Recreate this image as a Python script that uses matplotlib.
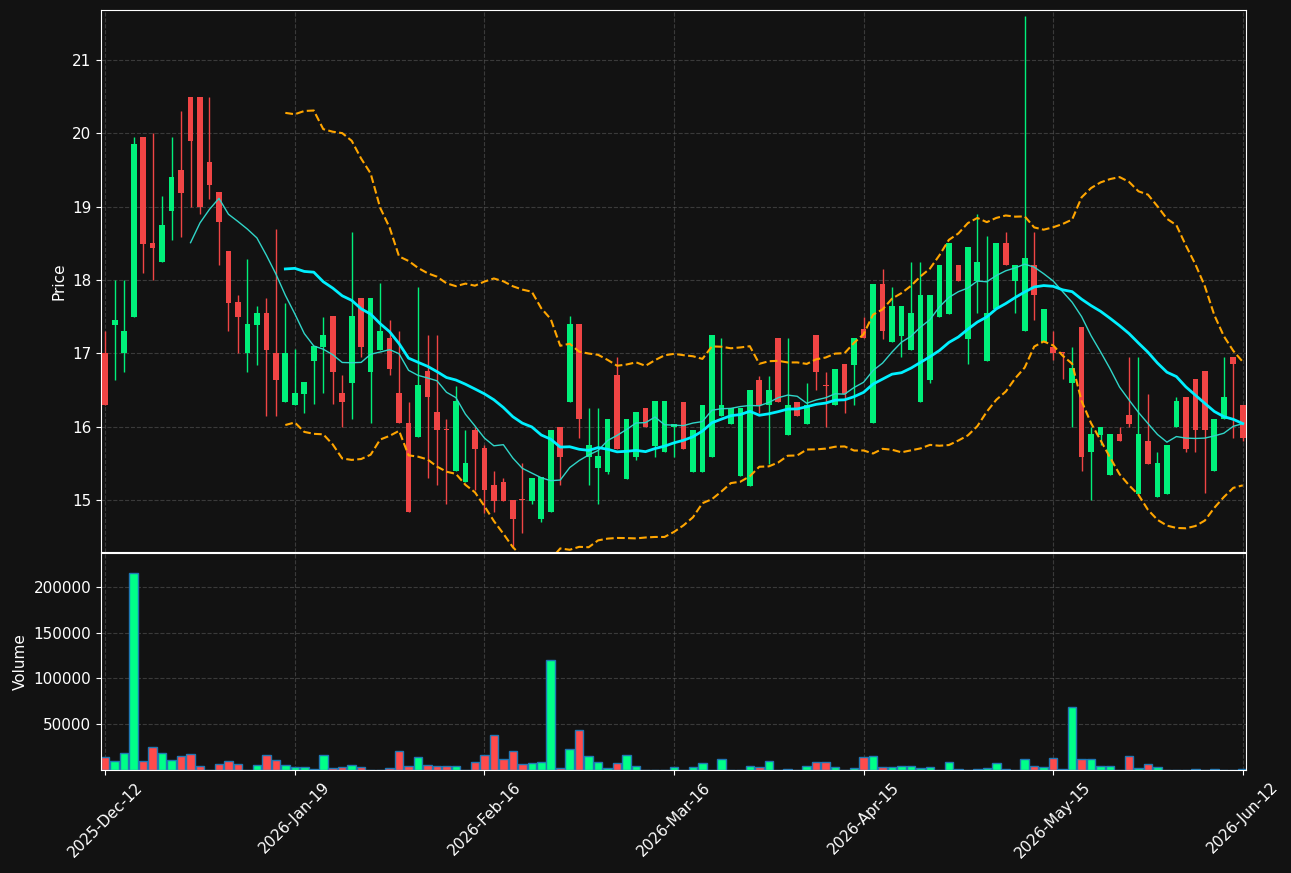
import numpy as np
import pandas as pd
import matplotlib
matplotlib.use("Agg")
import matplotlib.pyplot as plt

# daily OHLC (one row per trading day)
opens = [17.0, 17.39, 17.0, 17.5, 19.95, 18.5, 18.25, 18.94, 19.5, 20.5,
         20.5, 19.61, 19.2, 18.4, 17.7, 17.0, 17.39, 17.55, 17.0, 16.34,
         16.30, 16.45, 16.9, 17.09, 17.51, 16.46, 16.6, 17.75, 16.75, 17.05,
         17.21, 16.46, 16.05, 15.86, 16.76, 16.2, 15.96, 15.39, 15.24, 15.96,
         15.71, 15.2, 15.25, 15.0, 15.01, 14.99, 14.74, 14.84, 16.0, 16.34,
         17.4, 15.59, 15.44, 15.38, 16.7, 15.29, 15.59, 16.25, 15.74, 15.65,
         16.0, 16.34, 15.38, 15.38, 15.58, 16.15, 16.04, 15.33, 15.19, 16.64,
         16.3, 17.21, 15.88, 16.34, 16.04, 17.25, 16.56, 16.29, 16.85, 16.84,
         17.33, 16.05, 17.95, 17.15, 17.24, 17.05, 16.34, 16.64, 17.5, 17.54,
         18.2, 17.2, 17.99, 16.9, 17.6, 18.5, 17.99, 17.3, 18.2, 17.15,
         17.09, 17.01, 16.6, 17.36, 15.65, 15.89, 15.34, 15.9, 16.16, 15.08,
         15.8, 15.04, 15.08, 16.0, 16.4, 16.65, 16.76, 15.39, 16.1, 16.95,
         16.3]
highs = [17.3, 18.0, 18.0, 19.95, 19.95, 20.0, 19.15, 19.95, 20.3, 20.5,
         20.5, 20.5, 19.2, 18.4, 17.8, 18.29, 17.65, 17.75, 18.7, 17.69,
         17.06, 16.61, 17.1, 17.5, 17.51, 16.7, 18.65, 17.75, 17.75, 17.96,
         17.45, 17.3, 16.34, 17.9, 17.25, 17.25, 16.1, 16.55, 15.95, 16.0,
         15.75, 15.39, 15.3, 15.0, 15.5, 15.3, 15.31, 15.95, 16.0, 17.51,
         17.4, 16.25, 16.25, 16.1, 16.95, 16.1, 16.2, 16.25, 16.35, 16.35,
         16.04, 16.34, 15.95, 16.3, 17.25, 17.21, 16.25, 16.25, 16.5, 16.69,
         16.69, 17.21, 17.21, 16.34, 16.6, 17.25, 16.75, 16.79, 16.85, 17.21,
         17.5, 17.95, 18.15, 17.9, 17.65, 18.25, 18.25, 17.8, 18.2, 18.5,
         18.2, 18.45, 18.9, 18.6, 18.5, 18.65, 18.2, 21.6, 18.65, 17.6,
         17.3, 17.01, 17.09, 17.36, 16.0, 16.0, 15.9, 16.0, 16.95, 16.95,
         16.45, 15.65, 15.75, 16.4, 16.4, 16.65, 16.76, 16.1, 16.95, 16.95,
         16.3]
lows = [16.3, 16.64, 16.75, 17.5, 18.1, 18.0, 18.25, 18.55, 18.59, 19.0,
        18.9, 19.1, 18.2, 17.3, 17.0, 16.75, 16.84, 16.15, 16.15, 16.34,
        16.30, 16.19, 16.31, 16.46, 16.31, 16.0, 16.1, 16.95, 16.05, 17.05,
        16.7, 16.05, 14.84, 15.86, 15.3, 15.21, 14.95, 15.39, 15.24, 15.14,
        14.82, 14.84, 14.99, 14.34, 14.55, 14.95, 14.7, 14.84, 15.2, 16.34,
        15.85, 15.2, 14.95, 15.35, 15.7, 15.29, 15.54, 16.0, 15.59, 15.65,
        15.59, 15.69, 15.38, 15.38, 15.58, 16.15, 16.04, 15.33, 15.19, 16.18,
        15.49, 16.34, 15.88, 16.14, 16.04, 16.5, 16.0, 16.29, 16.19, 16.3,
        17.21, 16.05, 17.2, 17.15, 16.95, 17.05, 16.34, 16.6, 17.5, 17.54,
        17.99, 16.85, 17.55, 16.9, 17.6, 18.2, 17.55, 17.3, 17.45, 17.15,
        16.91, 16.65, 16.0, 15.39, 15.0, 15.75, 15.34, 15.8, 16.0, 15.08,
        15.49, 15.04, 15.08, 16.0, 15.65, 15.65, 15.09, 15.39, 16.1, 15.85,
        15.8]
closes = [16.3, 17.45, 17.3, 19.85, 18.49, 18.44, 18.75, 19.4, 19.19, 19.9,
          19.0, 19.3, 18.79, 17.69, 17.5, 17.4, 17.55, 17.04, 16.64, 17.0,
          16.46, 16.61, 17.1, 17.25, 16.75, 16.34, 17.51, 17.09, 17.75, 17.3,
          16.79, 16.05, 14.84, 16.56, 16.4, 15.95, 15.95, 16.35, 15.5, 15.7,
          15.14, 14.99, 14.99, 14.74, 15.0, 15.3, 15.31, 15.95, 15.59, 17.4,
          16.1, 15.75, 15.6, 16.1, 15.7, 16.1, 16.2, 16.0, 16.35, 16.35,
          16.04, 15.69, 15.95, 16.3, 17.25, 16.3, 16.25, 16.25, 16.5, 16.3,
          16.5, 16.34, 16.3, 16.14, 16.3, 16.75, 16.55, 16.79, 16.45, 17.21,
          17.21, 17.95, 17.3, 17.65, 17.65, 17.55, 17.8, 17.8, 18.2, 18.5,
          17.99, 18.45, 18.25, 17.55, 18.5, 18.2, 18.2, 18.3, 17.8, 17.6,
          17.0, 17.0, 16.8, 15.59, 15.9, 16.0, 15.9, 15.8, 16.04, 15.9,
          15.49, 15.51, 15.75, 16.35, 15.69, 15.95, 15.95, 16.1, 16.4, 16.85,
          15.85]
volumes = [14200, 9900, 19000, 214600, 9900, 25200, 19000, 11000, 15300, 17900,
           4400, 500, 6900, 9900, 6900, 300, 5500, 16400, 11000, 5500,
           3300, 3300, 1100, 16800, 2200, 3300, 5500, 3300, 400, 400,
           2200, 20800, 4400, 14200, 5500, 4400, 4400, 4400, 400, 9100,
           16600, 38700, 12000, 21200, 6900, 8000, 9100, 119700, 2200, 23400,
           44200, 15700, 9100, 2600, 8000, 16800, 4700, 300, 300, 400,
           3600, 400, 3600, 8000, 400, 12400, 100, 400, 4700, 3300,
           10200, 400, 1500, 100, 4700, 9100, 9100, 3600, 100, 2600,
           14600, 15700, 2900, 3300, 4700, 4700, 2600, 3600, 400, 9100,
           1100, 400, 1500, 2600, 8000, 1500, 400, 12400, 4700, 3300,
           13500, 1100, 68300, 12000, 12000, 4400, 4400, 100, 15700, 2200,
           6900, 3300, 100, 100, 100, 1100, 100, 1100, 300, 100,
           1100]
tick_labels = ['2025-Dec-12', '2026-Jan-19', '2026-Feb-16', '2026-Mar-16',
               '2026-Apr-15', '2026-May-15', '2026-Jun-12']

df = pd.DataFrame({'Open': opens, 'High': highs, 'Low': lows,
                   'Close': closes, 'Volume': volumes})
x = np.arange(len(df))
close = df['Close']
ma10 = close.rolling(10).mean()
ma20 = close.rolling(20).mean()
sd20 = close.rolling(20).std(ddof=0)
upper = ma20 + 2 * sd20
lower = ma20 - 2 * sd20

bg = '#121212'
up_c = '#00f07a'
dn_c = '#f04545'
vol_up = '#00ff88'
vol_dn = '#ff4b4b'

fig = plt.figure(figsize=(12.91, 8.73), dpi=100, facecolor=bg)
ax = fig.add_axes([0.0782, 0.3677, 0.8870, 0.6209])
axv = fig.add_axes([0.0782, 0.1180, 0.8870, 0.2486], sharex=ax)

is_up = df['Close'] >= df['Open']
cols = np.where(is_up, up_c, dn_c)

# wicks
ax.vlines(x, df['Low'], df['High'], colors=cols, linewidth=1.0, zorder=2)
# bodies
body_lo = np.minimum(df['Open'], df['Close'])
body_h = np.abs(df['Close'] - df['Open'])
body_h = np.maximum(body_h, 0.012)
ax.bar(x, body_h, bottom=body_lo, width=0.6, color=cols, linewidth=0, zorder=3)

ax.plot(x, ma10, color='#30d5c8', linewidth=1.0, zorder=4)
ax.plot(x, ma20, color='#00f0ff', linewidth=2.0, zorder=4)
ax.plot(x, upper, color='#ffa500', linewidth=1.5, linestyle='--', zorder=4)
ax.plot(x, lower, color='#ffa500', linewidth=1.5, linestyle='--', zorder=4)

vcols = np.where(is_up, vol_up, vol_dn)
axv.bar(x, df['Volume'], width=0.9, color=vcols, edgecolor='#1f77b4', linewidth=1.0)

for a in (ax, axv):
    a.set_facecolor(bg)
    for s in a.spines.values():
        s.set_color('white')
    a.tick_params(colors='white', labelsize=11)
    a.grid(True, linestyle='--', color='#555555', alpha=0.6, linewidth=0.8)
    a.set_axisbelow(True)

ax.set_xlim(-0.45, 120.35)
ax.set_ylim(14.29, 21.68)
ax.set_yticks([15, 16, 17, 18, 19, 20, 21])
ax.set_ylabel('Price', color='white', fontsize=11)
ax.tick_params(axis='x', labelbottom=False)

axv.set_ylim(0, 237000)
axv.set_yticks([50000, 100000, 150000, 200000])
axv.set_ylabel('Volume', color='white', fontsize=11)
tick_pos = np.arange(0, len(df), 20)
axv.set_xticks(tick_pos)
axv.set_xticklabels(tick_labels, rotation=45)

fig.savefig('out.png', dpi=100, facecolor=bg)
